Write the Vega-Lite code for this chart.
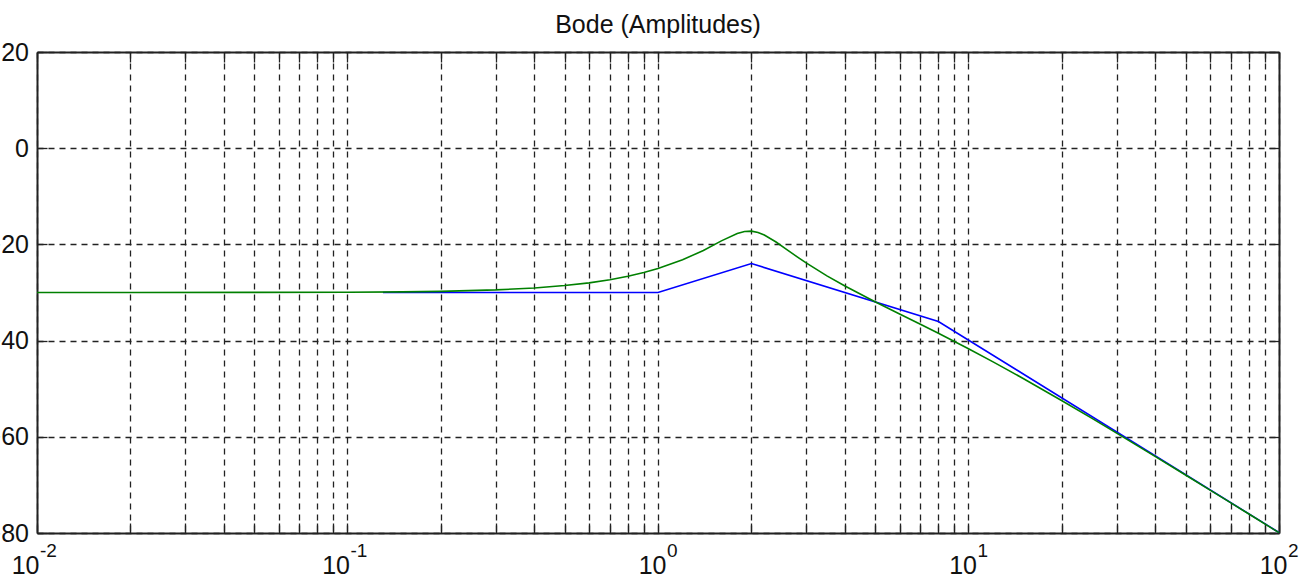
{
  "$schema": "https://vega.github.io/schema/vega-lite/v6.json",
  "autosize": "none",
  "padding": {"left": 37, "top": 52, "right": 29, "bottom": 48},
  "width": 1242,
  "height": 481,
  "background": "white",
  "title": {"text": "Bode (Amplitudes)", "font": "Liberation Sans", "fontSize": 25, "fontWeight": "normal", "color": "#111", "offset": -17.5, "orient": "top", "anchor": "middle", "baseline": "alphabetic"},
  "config": {
    "view": {"stroke": null},
    "axis": {"minExtent": 0, "labelFont": "Liberation Sans", "labelFontSize": 25, "labelColor": "#111", "domainColor": "#222", "domainWidth": 2, "tickColor": "#222", "tickWidth": 1.3, "gridColor": "#222", "gridWidth": 1.3, "gridDash": [6, 5], "gridOpacity": 1}
  },
  "datasets": {
    "curves": [
      {"w": 0.13, "db": -30.0, "s": "asymptote"},
      {"w": 1, "db": -30.0, "s": "asymptote"},
      {"w": 2, "db": -23.98, "s": "asymptote"},
      {"w": 8, "db": -36.02, "s": "asymptote"},
      {"w": 100, "db": -79.9, "s": "asymptote"},
      {"w": 0.01, "db": -30.0, "s": "exact"},
      {"w": 0.02, "db": -30.0, "s": "exact"},
      {"w": 0.05, "db": -29.98, "s": "exact"},
      {"w": 0.1, "db": -29.94, "s": "exact"},
      {"w": 0.15, "db": -29.86, "s": "exact"},
      {"w": 0.2, "db": -29.76, "s": "exact"},
      {"w": 0.3, "db": -29.46, "s": "exact"},
      {"w": 0.4, "db": -29.06, "s": "exact"},
      {"w": 0.5, "db": -28.56, "s": "exact"},
      {"w": 0.6, "db": -27.99, "s": "exact"},
      {"w": 0.7, "db": -27.34, "s": "exact"},
      {"w": 0.8, "db": -26.62, "s": "exact"},
      {"w": 0.9, "db": -25.85, "s": "exact"},
      {"w": 1.0, "db": -25.02, "s": "exact"},
      {"w": 1.2, "db": -23.21, "s": "exact"},
      {"w": 1.4, "db": -21.25, "s": "exact"},
      {"w": 1.6, "db": -19.27, "s": "exact"},
      {"w": 1.8, "db": -17.72, "s": "exact"},
      {"w": 1.9, "db": -17.31, "s": "exact"},
      {"w": 2.0, "db": -17.25, "s": "exact"},
      {"w": 2.1, "db": -17.52, "s": "exact"},
      {"w": 2.2, "db": -18.05, "s": "exact"},
      {"w": 2.4, "db": -19.51, "s": "exact"},
      {"w": 2.6, "db": -21.07, "s": "exact"},
      {"w": 2.8, "db": -22.53, "s": "exact"},
      {"w": 3.0, "db": -23.85, "s": "exact"},
      {"w": 3.5, "db": -26.55, "s": "exact"},
      {"w": 4.0, "db": -28.66, "s": "exact"},
      {"w": 5.0, "db": -31.93, "s": "exact"},
      {"w": 6.0, "db": -34.47, "s": "exact"},
      {"w": 7.0, "db": -36.61, "s": "exact"},
      {"w": 8.0, "db": -38.48, "s": "exact"},
      {"w": 10, "db": -41.7, "s": "exact"},
      {"w": 12, "db": -44.42, "s": "exact"},
      {"w": 15, "db": -47.87, "s": "exact"},
      {"w": 20, "db": -52.5, "s": "exact"},
      {"w": 25, "db": -56.18, "s": "exact"},
      {"w": 30, "db": -59.24, "s": "exact"},
      {"w": 40, "db": -64.13, "s": "exact"},
      {"w": 50, "db": -67.95, "s": "exact"},
      {"w": 60, "db": -71.09, "s": "exact"},
      {"w": 70, "db": -73.75, "s": "exact"},
      {"w": 80, "db": -76.06, "s": "exact"},
      {"w": 100, "db": -79.93, "s": "exact"}
    ],
    "exponents": [
      {"w": 0.01, "e": "-2", "neg": true},
      {"w": 0.1, "e": "-1", "neg": true},
      {"w": 1, "e": "0", "neg": false},
      {"w": 10, "e": "1", "neg": false},
      {"w": 100, "e": "2", "neg": false}
    ]
  },
  "layer": [
    {
      "data": {"name": "curves"},
      "mark": {"type": "line", "strokeWidth": 1.6, "interpolate": "linear"},
      "encoding": {
        "x": {"field": "w", "type": "quantitative",
          "scale": {"type": "log", "domain": [0.01, 100], "nice": false},
          "axis": {"orient": "bottom", "title": null, "grid": true, "tickSize": -10, "labelPadding": 30,
            "values": [0.01,0.02,0.03,0.04,0.05,0.06,0.07,0.08,0.09,0.1,0.2,0.3,0.4,0.5,0.6,0.7,0.8,0.9,1,2,3,4,5,6,7,8,9,10,20,30,40,50,60,70,80,90,100],
            "labelExpr": "abs(log(datum.value)/LN10 - round(log(datum.value)/LN10)) < 0.001 ? '10' : ''",
            "labelAlign": "right", "labelBaseline": "top",
            "labelOffset": {"condition": {"test": "datum.value < 0.5", "value": 2}, "value": 8},
            "labelFlush": false, "labelOverlap": false, "labelBound": false}},
        "y": {"field": "db", "type": "quantitative",
          "scale": {"domain": [-80, 20], "nice": false, "zero": false},
          "axis": {"orient": "left", "title": null, "grid": true, "tickSize": -10, "labelPadding": 18.5,
            "values": [-80, -60, -40, -20, 0, 20], "labelFlush": false, "labelOverlap": false, "labelBound": false}},
        "color": {"field": "s", "type": "nominal",
          "scale": {"domain": ["asymptote", "exact"], "range": ["#0000ff", "#008000"]}, "legend": null},
        "order": {"field": "w", "type": "quantitative"}
      }
    },
    {
      "data": {"name": "exponents"},
      "transform": [{"filter": "datum.neg"}],
      "mark": {"type": "text", "font": "Liberation Sans", "fontSize": 19, "align": "left", "baseline": "alphabetic", "dx": 3, "dy": 24, "color": "#111"},
      "encoding": {
        "x": {"field": "w", "type": "quantitative", "axis": null},
        "y": {"datum": -80, "axis": null},
        "text": {"field": "e"}
      }
    },
    {
      "data": {"name": "exponents"},
      "transform": [{"filter": "!datum.neg"}],
      "mark": {"type": "text", "font": "Liberation Sans", "fontSize": 19, "align": "left", "baseline": "alphabetic", "dx": 9, "dy": 24, "color": "#111"},
      "encoding": {
        "x": {"field": "w", "type": "quantitative", "axis": null},
        "y": {"datum": -80, "axis": null},
        "text": {"field": "e"}
      }
    },
    {
      "data": {"name": "curves"},
      "mark": {"type": "point", "opacity": 0},
      "encoding": {
        "x": {"field": "w", "type": "quantitative",
          "axis": {"orient": "top", "title": null, "grid": false, "labels": false, "tickSize": -10, "minExtent": 0,
            "values": [0.01,0.02,0.03,0.04,0.05,0.06,0.07,0.08,0.09,0.1,0.2,0.3,0.4,0.5,0.6,0.7,0.8,0.9,1,2,3,4,5,6,7,8,9,10,20,30,40,50,60,70,80,90,100]}},
        "y": {"field": "db", "type": "quantitative",
          "axis": {"orient": "right", "title": null, "grid": false, "labels": false, "tickSize": -10, "minExtent": 0,
            "values": [-80, -60, -40, -20, 0, 20]}}
      }
    }
  ],
  "resolve": {"axis": {"x": "independent", "y": "independent"}}
}
